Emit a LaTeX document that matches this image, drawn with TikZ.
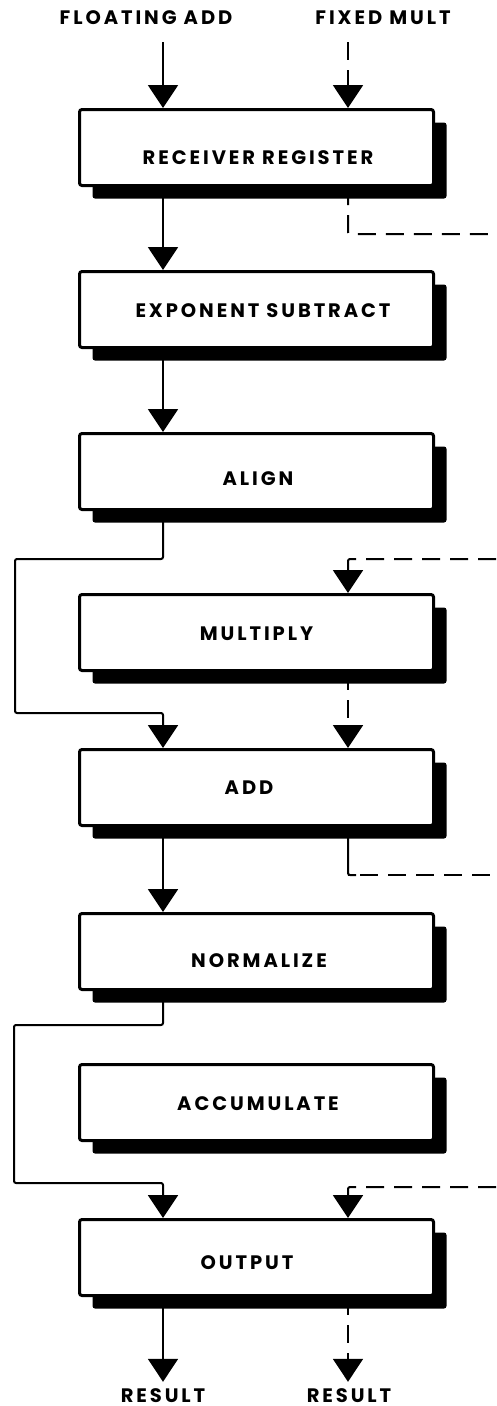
\documentclass[tikz,border=0pt]{standalone}
\usepackage{fontspec}
\newfontfamily\labfont[LetterSpace=15]{Poppins}
\usetikzlibrary{arrows.meta,shadows}

\begin{document}
\begin{tikzpicture}[x=1pt,y=-1pt,
  lbl/.style={font=\labfont\bfseries\fontsize{19.5}{19.5}\selectfont, inner sep=0pt},
  blk/.style={draw, line width=3pt, fill=white, rounded corners=2.5pt,
    minimum width=354pt, minimum height=76pt, inner sep=0pt,
    drop shadow={shadow xshift=13pt, shadow yshift=-13pt, opacity=1, fill=black}},
  wire/.style={line width=2pt, rounded corners=2pt},
  dashwire/.style={wire, dash pattern=on 18pt off 10pt},
  tip/.style={-{Triangle[width=30pt,length=23pt]}},
]
\useasboundingbox (0,0) rectangle (496,1406);

% column positions of the two data paths
\coordinate (colL) at (163,0);
\coordinate (colR) at (348,0);

% input labels
\node[lbl] (fa) at (146,17.5) {FLOATING ADD};
\node[lbl] (fm) at (383,17.5) {FIXED MULT};

% stages
\node[blk, label={[lbl,shift={(1.5,10)}]center:RECEIVER REGISTER}] (rr) at (256.5,147.5) {};
\node[blk, label={[lbl,shift={(6.5,1.5)}]center:EXPONENT SUBTRACT}] (es) at (256.5,309.5) {};
\node[blk, label={[lbl,shift={(1.5,7.5)}]center:ALIGN}] (al) at (256.5,471.5) {};
\node[blk, label={[lbl,shift={(0,1.5)}]center:MULTIPLY}] (mu) at (256.5,632.5) {};
\node[blk, label={[lbl,shift={(-7.5,0)}]center:ADD}] (ad) at (256.5,787.5) {};
\node[blk, label={[lbl,shift={(2.5,9.5)}]center:NORMALIZE}] (no) at (256.5,951.5) {};
\node[blk, label={[lbl,shift={(1.5,1.5)}]center:ACCUMULATE}] (ac) at (256.5,1102.5) {};
\node[blk, label={[lbl,shift={(-9.5,5.5)}]center:OUTPUT}] (ou) at (256.5,1257.5) {};

% output labels
\node[lbl] (r1) at (163,1396) {RESULT};
\node[lbl] (r2) at (349,1396) {RESULT};

% free ends and bends of the connectors
\coordinate (fa-in) at (163,42);
\coordinate (fm-in) at (348,42);
\coordinate (rr-out) at (496,234);
\coordinate (mu-in) at (496,559);
\coordinate (al-left) at (15,559);
\coordinate (ad-left) at (15,713);
\coordinate (ad-turn) at (348,875);
\coordinate (ad-out) at (496,875);
\coordinate (no-left) at (14,1025);
\coordinate (ou-left) at (14,1183);
\coordinate (ou-in) at (496,1187);

% floating add path (solid)
\draw[wire,tip] (fa-in) -- (rr.north -| colL);
\draw[wire,tip] (rr.south -| colL) -- (es.north -| colL);
\draw[wire,tip] (es.south -| colL) -- (al.north -| colL);
\draw[wire,tip] (al.south -| colL) |- (al-left) -- (ad-left) -| (ad.north -| colL);
\draw[wire,tip] (ad.south -| colL) -- (no.north -| colL);
\draw[wire,tip] (no.south -| colL) |- (no-left) -- (ou-left) -| (ou.north -| colL);
\draw[wire,tip,shorten >=7pt] (ou.south -| colL) -- (r1.north);

% fixed multiply path (dashed)
\draw[dashwire,tip] (fm-in) -- (rr.north -| colR);
\draw[dashwire] (rr.south -| colR) |- (rr-out);
\draw[dashwire,tip] (mu-in) -| (mu.north -| colR);
\draw[dashwire,tip] (mu.south -| colR) -- (ad.north -| colR);
\draw[wire] (ad.south -| colR) -- (ad-turn) -- ++(8,0);
\draw[dashwire,dash phase=-12pt] (ad-turn) -- (ad-out);
\draw[dashwire,tip] (ou-in) -| (ou.north -| colR);
\draw[dashwire,tip,shorten >=7pt] (ou.south -| colR) -- (r2.north -| colR);
\end{tikzpicture}
\end{document}
